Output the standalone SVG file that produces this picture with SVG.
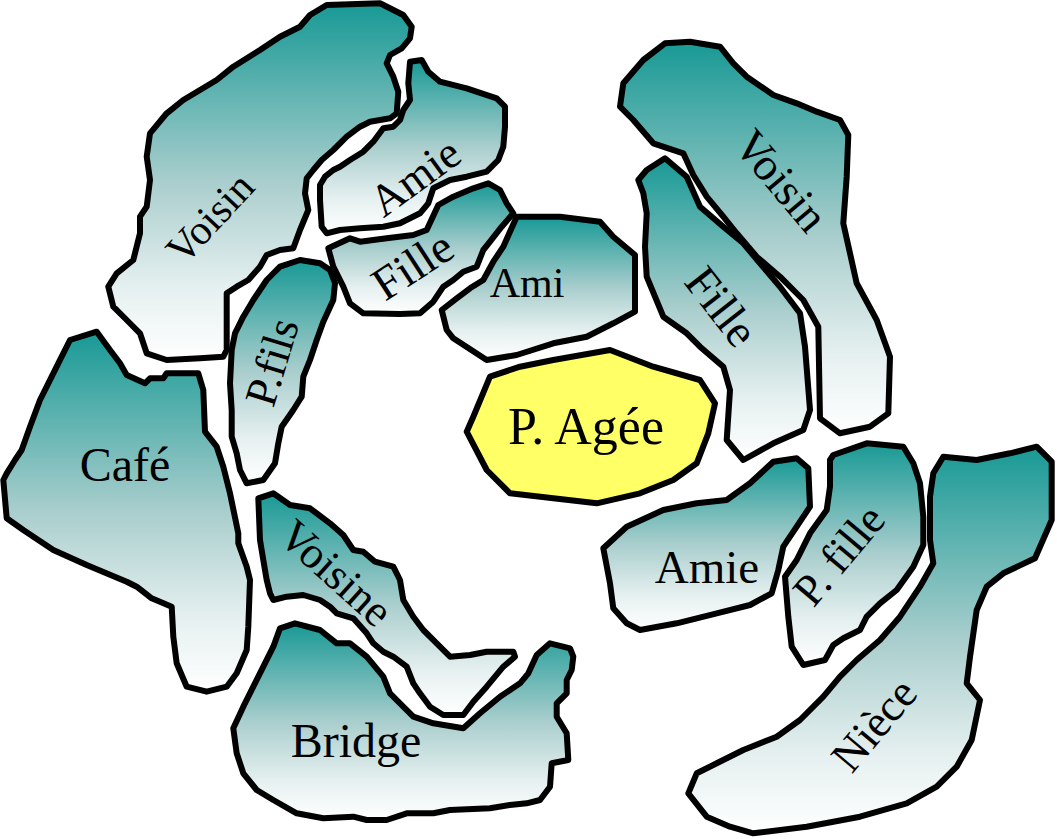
<svg xmlns="http://www.w3.org/2000/svg" width="1057" height="839" viewBox="0 0 1057 839">
<defs>
<linearGradient id="tg" x1="0" y1="0" x2="0" y2="1">
<stop offset="0" stop-color="#189995"/>
<stop offset="0.5" stop-color="#a9cecd"/>
<stop offset="0.8" stop-color="#e6f0f0"/>
<stop offset="1" stop-color="#ffffff"/>
</linearGradient>
<style>
.s{fill:url(#tg);stroke:#000;stroke-width:6;stroke-linejoin:round}
.y{fill:#ffff66;stroke:#000;stroke-width:6;stroke-linejoin:round}
text{font-family:"Liberation Serif","Times New Roman",serif;fill:#000;text-anchor:middle}
</style>
</defs>
<rect width="1057" height="839" fill="#fff"/>
<g id="voisin-left">
<polygon class="s" points="310,15 326.7,5 380,3.3 403.3,15 411.7,26.7 410,38.3 401.7,48.3 390,55 386.7,63.3 393.3,76.7 398.3,91.7 396.7,113.3 390,118.3 370,121.7 360,126.7 346.7,136.7 333.3,150 321.7,160 313.3,170 306.7,178.3 305,193.3 308.3,210 300,230 293.3,248.3 280,250 266.7,255 260,266.7 248.3,280 236.7,286.7 226.7,293.3 226.7,320 226.7,350 223.3,356.7 200,358.3 166.7,360 146.7,353.3 140,333.3 126.7,320 113.3,306.7 108.3,286.7 116.7,273.3 133.3,260 140,233.3 140,216.7 146.7,206.7 150,180 146.7,156.7 150,133.3 158.3,123.3 166.7,113.3 183.3,100 200,90 216.7,80 233.3,66.7 260,50 280,36.7 300,26.7"/>
<text transform="translate(210,218) rotate(-47)" y="14" font-size="42">Voisin</text>
</g>
<g id="amie-top">
<polygon class="s" points="410,61.7 421.7,60 428.3,71.7 440,81.7 466.7,88.3 496.7,98.3 505,106.7 505,126.7 503.3,146.7 498.3,160 486.7,171.7 466.7,176.7 450,180 433.3,188.3 428.3,203.3 420,213.3 400,223.3 383.3,226.7 360,228.3 340,230 326.7,233.3 321.7,226.7 320,200 320,185 325,176.7 333.3,170 340,166.7 350,160 363.3,151.7 373.3,141.7 383.3,128.3 393.3,126.7 400,120 403.3,110 410,100 408.3,83.3"/>
<text transform="translate(415,177) rotate(-36)" y="15" font-size="45">Amie</text>
</g>
<g id="fille-top">
<polygon class="s" points="328.3,248.3 350,238.3 360,241.7 386.7,238.3 413.3,235 426.7,230 438.3,205 453.3,196.7 473.3,188.3 488.3,183.3 500,190 506.7,203.3 513.3,213.3 501.7,226.7 490,241.7 483.3,250 476.7,266.7 463.3,271.7 453.3,280 443.3,286.7 433.3,301.7 420,313.3 400,314 363.3,313.3 350,303.3 343.3,286.7 333.3,266.7"/>
<text transform="translate(413,266) rotate(-33)" y="15" font-size="47">Fille</text>
</g>
<g id="ami">
<polygon class="s" points="516.7,216.7 560,216.7 600,221.7 613.3,236.7 635,255 635,280 635,311.7 613.3,323.3 586.7,336.7 553.3,343.3 516.7,355 486.7,360 453.3,338.3 446.7,330 441.7,310 456.7,298.3 470,288.3 483.3,280 493.3,261.7 503.3,246.7"/>
<text x="527" y="297" font-size="42">Ami</text>
</g>
<g id="p-agee">
<polygon class="y" points="490,376.7 520,366.7 553.3,360 610,350 653.3,366.7 700,380 715,403.3 708.3,433.3 696.7,463.3 673.3,480 640,493.3 596.7,503.3 553.3,498.3 510,493.3 486.7,470 466.7,431.7 473.3,416.7"/>
<text x="586" y="444" font-size="52">P. Agée</text>
</g>
<g id="p-fils">
<polygon class="s" points="300,260 320,263.3 330,270 335,283.3 333.3,300 323.3,321.7 316.7,340 310,360 303.3,376.7 301.7,396.7 293.3,410 281.7,426.7 278.3,443.3 275,463.3 263.3,480 246.7,483.3 240,470 236.7,453.3 231.7,436.7 231.7,410 230,383.3 231.7,350 235,333.3 243.3,316.7 253.3,300 266.7,280 280,266.7"/>
<text transform="translate(272,362) rotate(-73)" y="15" font-size="45">P.fils</text>
</g>
<g id="cafe">
<polygon class="s" points="70,340 96.7,331.7 110,350 120,363.3 126.7,375 145,383.3 150,378.3 163.3,378.3 166.7,373.3 198.3,373.3 203.3,390 205,431.7 216.7,446.7 223.3,466.7 230,493.3 238.3,533.3 238.3,543.3 246.7,566.7 250,580 248.3,626.7 246.7,650 236.7,673.3 226.7,686.7 206.7,691.7 186.7,686.7 176.7,663.3 173.3,636.7 171.7,606.7 151.7,598.3 136.7,586.7 126.7,581.7 86.7,565 53.3,550 23.3,530 6.7,518.3 3.3,480 6.7,473.3 15,460 21.7,450 30,426.7 40,400 46.7,386.7 58.3,363.3"/>
<text x="125" y="481" font-size="48">Café</text>
</g>
<g id="voisine">
<polygon class="s" points="258.3,498.3 273.3,493.3 290,505 310,508.3 330,523.3 343.3,535 353.3,550 363.3,551.7 375,561.7 393.3,566.7 400,580 403.3,600 413.3,616.7 423.3,630 436.7,643.3 450,656.7 470,655 486.7,651.7 513.3,651.7 515,656.7 503.3,666.7 486.7,686.7 473.3,701.7 463.3,715 443.3,715 430,706.7 420,693.3 413.3,683.3 406.7,666.7 393.3,656.7 383.3,651.7 373.3,643.3 366.7,633.3 353.3,618.3 336.7,613.3 330,606.7 320,600 303.3,595 286.7,596.7 273.3,600 270,593.3 266.7,580 263.3,560 260,540"/>
<text transform="translate(336,573) rotate(42)" y="15" font-size="45">Voisine</text>
</g>
<g id="bridge">
<polygon class="s" points="280,628.3 295,623.3 320,630 336.7,643.3 350,643.3 366.7,656.7 383.3,676.7 390,693.3 413.3,716.7 433.3,723.3 463.3,728.3 480,713.3 500,696.7 520,683.3 528.3,673.3 536.7,655 550,643.3 570,648.3 573.3,656.7 571.7,670 566.7,680 566.7,693.3 556.7,703.3 556.7,716.7 566.7,733.3 568.3,760 551.7,763.3 550,786.7 540,800 526.7,803.3 510,805 490,808.3 450,810 433.3,813.3 406.7,813.3 386.7,820 366.7,820 353.3,816.7 323.3,818.3 296.7,813.3 273.3,800 256.7,790 243.3,773.3 236.7,753.3 233.3,728.3 243.3,706.7 253.3,686.7 263.3,666.7 273.3,646.7"/>
<text x="356" y="757" font-size="48">Bridge</text>
</g>
<g id="voisin-right">
<polygon class="s" points="665,43.3 690,41.7 720,46.7 733.3,63.3 746.7,76.7 773.3,95 796.7,103.3 816.7,111.7 840,120 848.3,135 846.7,176.7 843.3,223.3 856.7,283.3 876.7,320 890,356.7 888.3,413.3 870,426.7 840,433.3 820,418.3 818.3,326.7 803.3,300 780,276.7 756.7,256.7 736.7,233.3 723.3,216.7 706.7,196.7 693.3,175 683.3,153.3 653.3,143.3 633.3,120 620,106.7 623.3,83.3 643.3,60"/>
<text transform="translate(781,181) rotate(50)" y="15" font-size="46">Voisin</text>
</g>
<g id="fille-right">
<polygon class="s" points="665,158.3 686.7,176.7 700,206.7 723.3,226.7 743.3,243.3 760,263.3 780,286.7 800,313.3 805,346.7 810,410 803.3,430 773.3,443.3 743.3,460 726.7,440 730,390 723.3,366.7 700,346.7 686.7,333.3 663.3,316.7 646.7,276.7 645,246.7 646.7,213.3 643.3,193.3 638.3,180 646.7,170"/>
<text transform="translate(721,307) rotate(52)" y="15" font-size="47">Fille</text>
</g>
<g id="amie-bottom">
<polygon class="s" points="773.3,461.7 796.7,458.3 808.3,468.3 810,506.7 796.7,526.7 783.3,546.7 778.3,570 771.7,593.3 750,605 716.7,613.3 676.7,623.3 640,630 626.7,623.3 613.3,608.3 610,583.3 603.3,548.3 626.7,526.7 663.3,510 696.7,503.3 726.7,500 750,483.3"/>
<text x="707" y="583" font-size="47">Amie</text>
</g>
<g id="p-fille">
<polygon class="s" points="833.3,455 866.7,443.3 903.3,446.7 913.3,463.3 920,483.3 923.3,516.7 923.3,545 913.3,566.7 896.7,590 880,603.3 866.7,616.7 860,630 843.3,638.3 833.3,645 825,660 803.3,665 791.7,646.7 788.3,616.7 785,576.7 796.7,560 810,533.3 826.7,510 830,486.7 830,460"/>
<text transform="translate(839,555) rotate(-50)" y="15" font-size="45">P. fille</text>
</g>
<g id="niece">
<polygon class="s" points="943.3,456.7 976.7,460 1010,453.3 1036.7,446.7 1051.7,461.7 1051.7,520 1035,558.3 1003.3,573.3 986.7,586.7 976.7,610 970,656.7 966.7,683.3 980,700 971.7,740 956.7,766.7 936.7,786.7 906.7,803.3 860,816.7 806.7,826.7 753.3,833.3 730,826.7 706.7,816.7 688.3,793.3 696.7,773.3 716.7,763.3 743.3,750 776.7,736.7 800,720 823.3,696.7 840,676.7 856.7,660 880,640 900,616.7 920,586.7 933.3,563.3 930,540 930,496.7 933.3,473.3"/>
<text transform="translate(874,725) rotate(-50)" y="15" font-size="45">Nièce</text>
</g>
</svg>
